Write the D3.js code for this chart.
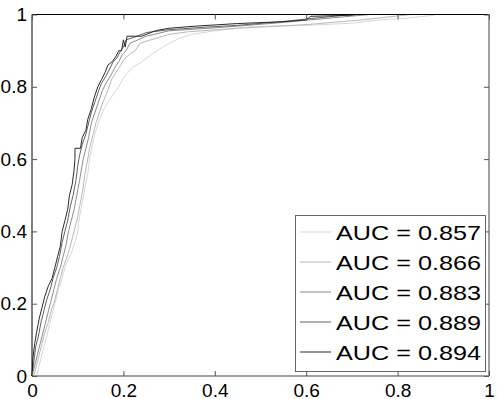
<!DOCTYPE html>
<html><head><meta charset="utf-8">
<script src="https://cdn.jsdelivr.net/npm/d3@7"></script>
<style>body{margin:0;background:#fff}svg{display:block}text{font-family:"Liberation Sans",Arial,sans-serif}</style>
</head><body>
<svg id="c" width="498" height="399"></svg>
<script>
const labels = ["AUC = 0.857","AUC = 0.866","AUC = 0.883","AUC = 0.889","AUC = 0.894"];
const xTicks = [0,0.2,0.4,0.6,0.8,1];
const yTicks = [0,0.2,0.4,0.6,0.8,1];
const curve1 = [[0.01,0],[0.016,0.03],[0.022,0.06],[0.028,0.09],[0.034,0.12],[0.04,0.15],[0.046,0.18],[0.052,0.21],[0.058,0.24],[0.066,0.27],[0.072,0.3],[0.078,0.32],[0.086,0.34],[0.094,0.37],[0.1,0.4],[0.104,0.44],[0.11,0.48],[0.116,0.52],[0.122,0.56],[0.126,0.6],[0.132,0.64],[0.14,0.68],[0.148,0.71],[0.158,0.74],[0.168,0.76],[0.178,0.78],[0.19,0.8],[0.198,0.82],[0.21,0.84],[0.222,0.855],[0.236,0.865],[0.246,0.875],[0.262,0.89],[0.28,0.905],[0.3,0.92],[0.32,0.933],[0.35,0.945],[0.4,0.955],[0.48,0.966],[0.6,0.97],[0.7,0.976],[0.76,0.985],[0.82,0.99],[0.88,0.998],[0.88,1],[1,1]];
const curve2 = [[0.004,0],[0.01,0.03],[0.016,0.06],[0.022,0.09],[0.028,0.12],[0.036,0.15],[0.042,0.18],[0.05,0.21],[0.056,0.24],[0.062,0.27],[0.068,0.3],[0.074,0.32],[0.082,0.35],[0.088,0.38],[0.094,0.41],[0.1,0.44],[0.106,0.48],[0.112,0.52],[0.116,0.56],[0.122,0.6],[0.126,0.63],[0.132,0.66],[0.14,0.7],[0.148,0.73],[0.156,0.76],[0.166,0.79],[0.174,0.82],[0.184,0.84],[0.194,0.86],[0.204,0.88],[0.214,0.89],[0.226,0.9],[0.236,0.92],[0.26,0.93],[0.3,0.945],[0.34,0.952],[0.45,0.962],[0.6,0.972],[0.72,0.985],[0.83,1],[1,1]];
const curve3 = [[0,0],[0.006,0.03],[0.012,0.06],[0.018,0.09],[0.024,0.12],[0.03,0.15],[0.036,0.18],[0.042,0.21],[0.048,0.24],[0.054,0.27],[0.062,0.3],[0.068,0.33],[0.074,0.36],[0.08,0.4],[0.086,0.43],[0.092,0.46],[0.098,0.5],[0.104,0.54],[0.108,0.57],[0.112,0.6],[0.118,0.63],[0.124,0.66],[0.13,0.7],[0.138,0.73],[0.146,0.76],[0.154,0.79],[0.162,0.81],[0.172,0.83],[0.18,0.85],[0.19,0.87],[0.198,0.89],[0.206,0.9],[0.214,0.92],[0.25,0.94],[0.3,0.955],[0.4,0.963],[0.45,0.968],[0.55,0.978],[0.65,0.99],[0.74,1],[1,1]];
const curve4 = [[0,0],[0.004,0.04],[0.008,0.08],[0.014,0.11],[0.02,0.15],[0.026,0.18],[0.032,0.21],[0.04,0.24],[0.046,0.27],[0.054,0.3],[0.06,0.33],[0.066,0.37],[0.072,0.4],[0.078,0.43],[0.084,0.47],[0.09,0.5],[0.096,0.54],[0.1,0.58],[0.104,0.61],[0.11,0.64],[0.118,0.67],[0.124,0.7],[0.13,0.73],[0.138,0.76],[0.146,0.79],[0.152,0.81],[0.162,0.83],[0.17,0.85],[0.178,0.87],[0.186,0.88],[0.194,0.9],[0.2,0.91],[0.206,0.93],[0.23,0.94],[0.25,0.95],[0.3,0.958],[0.38,0.965],[0.45,0.97],[0.56,0.982],[0.62,0.99],[0.7,1],[1,1]];
const curve5 = [[0,0],[0.002,0.05],[0.006,0.09],[0.01,0.12],[0.016,0.16],[0.022,0.19],[0.028,0.22],[0.036,0.25],[0.044,0.27],[0.05,0.3],[0.056,0.33],[0.062,0.36],[0.066,0.4],[0.072,0.43],[0.078,0.46],[0.082,0.5],[0.088,0.53],[0.092,0.57],[0.094,0.6],[0.094,0.63],[0.106,0.63],[0.11,0.66],[0.118,0.68],[0.122,0.71],[0.13,0.74],[0.136,0.77],[0.144,0.8],[0.152,0.82],[0.16,0.84],[0.166,0.86],[0.176,0.87],[0.184,0.885],[0.19,0.9],[0.196,0.9],[0.2,0.93],[0.204,0.91],[0.208,0.94],[0.24,0.94],[0.27,0.955],[0.3,0.962],[0.36,0.968],[0.45,0.975],[0.55,0.98],[0.6,0.985],[0.61,0.995],[0.7,0.998],[0.71,1],[1,1]];
const curves = [curve1, curve2, curve3, curve4, curve5];
const colors = ["#d8d8d8","#b8b8b8","#8c8c8c","#606060","#2a2a2a"];

const svg = d3.select("#c");
const L = 32, R = 489, T = 14.5, B = 376;
const x = d3.scaleLinear().domain([0,1]).range([L,R]);
const y = d3.scaleLinear().domain([0,1]).range([B,T]);

const line = d3.line().x(d=>x(d[0])).y(d=>y(d[1]));
svg.append("g").selectAll("path").data(curves).join("path")
  .attr("d", line).attr("fill","none")
  .attr("stroke",(d,i)=>colors[i]).attr("stroke-width",1);

// box
svg.append("line").attr("x1",L).attr("x2",R).attr("y1",T).attr("y2",T).attr("stroke","#000");
svg.append("line").attr("x1",L).attr("x2",L).attr("y1",T).attr("y2",B).attr("stroke","#000");
svg.append("line").attr("x1",L).attr("x2",R).attr("y1",B).attr("y2",B).attr("stroke","#808080").attr("stroke-width",1.5);
svg.append("line").attr("x1",R).attr("x2",R).attr("y1",T).attr("y2",B).attr("stroke","#808080").attr("stroke-width",1.5);

// axes with inner ticks
const xb = svg.append("g").attr("transform",`translate(0,${B})`)
  .call(d3.axisBottom(x).tickValues(xTicks).tickSizeInner(-5).tickSizeOuter(0).tickFormat(d3.format("")));
const xt = svg.append("g").attr("transform",`translate(0,${T})`)
  .call(d3.axisTop(x).tickValues(xTicks).tickSizeInner(-5).tickSizeOuter(0).tickFormat(""));
const yl = svg.append("g").attr("transform",`translate(${L},0)`)
  .call(d3.axisLeft(y).tickValues(yTicks).tickSizeInner(-5).tickSizeOuter(0).tickPadding(5).tickFormat(d3.format("")));
const yr = svg.append("g").attr("transform",`translate(${R},0)`)
  .call(d3.axisRight(y).tickValues(yTicks).tickSizeInner(-5).tickSizeOuter(0).tickFormat(""));
[xb,xt,yl,yr].forEach(g=>{g.select(".domain").remove(); g.selectAll("line").attr("stroke","#555");});
[xb,yl].forEach(g=>g.selectAll("text").attr("font-size",19).attr("fill","#000").style("font-family","'Liberation Sans',Arial,sans-serif"));
xb.selectAll("text").attr("y",20.5).attr("dy",0);

// legend
const lg = svg.append("g");
lg.append("rect").attr("x",295.5).attr("y",215.5).attr("width",190).attr("height",156)
  .attr("fill","#fff").attr("stroke","#666");
const rowY = d3.scaleLinear().domain([0,4]).range([232,352]);
labels.forEach((t,i)=>{
  lg.append("line").attr("x1",300).attr("x2",331).attr("y1",rowY(i)).attr("y2",rowY(i))
    .attr("stroke",colors[i]).attr("stroke-width",1);
  lg.append("text").attr("x",336).attr("y",rowY(i)+7.5).attr("font-size",21)
    .attr("textLength",145).attr("lengthAdjust","spacingAndGlyphs").attr("fill","#000").text(t);
});
</script>
</body></html>
